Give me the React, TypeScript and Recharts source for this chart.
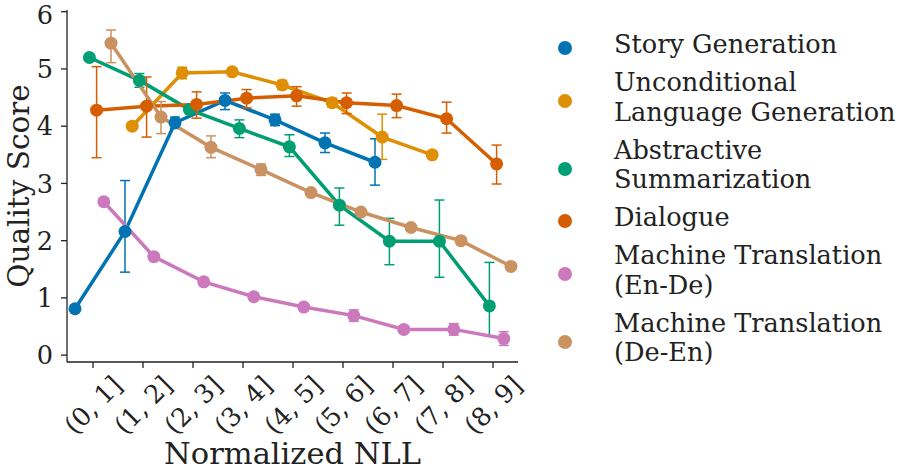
import React from "react";
import { LineChart, Line, XAxis, YAxis, ErrorBar } from "recharts";

// NLL bins on the x axis
const bins = ["(0, 1]", "(1, 2]", "(2, 3]", "(3, 4]", "(4, 5]", "(5, 6]", "(6, 7]", "(7, 8]", "(8, 9]"];
const yTicks = [0, 1, 2, 3, 4, 5, 6];

// means per bin (null = no point), with lower / upper CI bounds
const storyMean = [0.81, 2.16, 4.06, 4.45, 4.11, 3.71, 3.37, null, null];
const storyLow = [0.8, 1.45, 3.96, 4.29, 4.01, 3.54, 2.97, null, null];
const storyHigh = [0.82, 3.05, 4.16, 4.58, 4.21, 3.88, 3.78, null, null];

const uncondMean = [null, 4.0, 4.93, 4.95, 4.72, 4.41, 3.81, 3.5, null];
const uncondLow = [null, 3.95, 4.83, 4.89, 4.64, 4.33, 3.42, 3.45, null];
const uncondHigh = [null, 4.05, 5.03, 5.01, 4.8, 4.49, 4.21, 3.55, null];

const summMean = [5.2, 4.8, 4.29, 3.96, 3.64, 2.62, 1.99, 1.99, 0.86];
const summLow = [5.15, 4.68, 4.24, 3.8, 3.47, 2.27, 1.58, 1.36, 0.33];
const summHigh = [5.25, 4.92, 4.34, 4.11, 3.85, 2.92, 2.39, 2.71, 1.62];

const dialogMean = [4.28, 4.35, 4.38, 4.49, 4.53, 4.41, 4.36, 4.13, 3.34];
const dialogLow = [3.45, 3.81, 4.14, 4.32, 4.35, 4.22, 4.15, 3.88, 2.99];
const dialogHigh = [5.04, 4.86, 4.6, 4.64, 4.69, 4.58, 4.56, 4.42, 3.67];

const enDeMean = [2.68, 1.72, 1.28, 1.02, 0.84, 0.69, 0.45, 0.45, 0.29];
const enDeLow = [2.63, 1.67, 1.23, 0.96, 0.78, 0.59, 0.39, 0.35, 0.17];
const enDeHigh = [2.73, 1.77, 1.33, 1.08, 0.9, 0.79, 0.51, 0.55, 0.41];

const deEnMean = [5.45, 4.16, 3.63, 3.24, 2.84, 2.5, 2.23, 2.0, 1.55];
const deEnLow = [5.11, 3.87, 3.45, 3.14, 2.78, 2.45, 2.18, 1.95, 1.5];
const deEnHigh = [5.68, 4.43, 3.83, 3.34, 2.9, 2.55, 2.28, 2.05, 1.6];

const seriesNames = [
  "Story Generation",
  "Unconditional\nLanguage Generation",
  "Abstractive\nSummarization",
  "Dialogue",
  "Machine Translation\n(En-De)",
  "Machine Translation\n(De-En)",
];
const colors = ["#0173b2", "#de8f05", "#029e73", "#d55e00", "#cc78bc", "#ca9161"];

const FONT = "'DejaVu Serif', serif";
const INK = "#222";

function buildSeries(mean: (number | null)[], low: (number | null)[], high: (number | null)[], idx: number) {
  const dodge = -0.36 + idx * 0.144;
  const rows: { x: number; y: number; err: number[] }[] = [];
  mean.forEach((m, i) => {
    if (m == null) return;
    rows.push({ x: i + dodge, y: m, err: [m - (low[i] as number), (high[i] as number) - m] });
  });
  return rows;
}

const series = [
  buildSeries(storyMean, storyLow, storyHigh, 0),
  buildSeries(uncondMean, uncondLow, uncondHigh, 1),
  buildSeries(summMean, summLow, summHigh, 2),
  buildSeries(dialogMean, dialogLow, dialogHigh, 3),
  buildSeries(enDeMean, enDeLow, enDeHigh, 4),
  buildSeries(deEnMean, deEnLow, deEnHigh, 5),
];

function BinTick(props: any) {
  const { x, y, payload } = props;
  const cy = y + 35;
  return (
    <text
      x={x}
      y={cy}
      textAnchor="middle"
      dominantBaseline="central"
      transform={`rotate(-45, ${x}, ${cy})`}
      fontFamily={FONT}
      fontSize={25.6}
      fill={INK}>
      {bins[payload.value]}
    </text>
  );
}

function LegendBox() {
  return (
    <div style={{ position: "absolute", left: 558, top: 30, fontFamily: FONT, fontSize: 25.6, color: INK }}>
      {seriesNames.map((name, i) => (
        <div key={name} style={{ display: "flex", alignItems: "center", marginBottom: 8.5 }}>
          <div
            style={{
              width: 14,
              height: 14,
              borderRadius: 7,
              background: colors[i],
              marginTop: 7,
              marginRight: 42,
              flexShrink: 0,
            }}
          />
          <div style={{ lineHeight: "29.5px", whiteSpace: "pre" }}>{name}</div>
        </div>
      ))}
    </div>
  );
}

export default function App() {
  return (
    <div style={{ position: "absolute", left: 0, top: 0, width: 900, height: 470, background: "#fff" }}>
      <LineChart width={900} height={470} margin={{ top: 10, right: 382, bottom: 0, left: 0 }}>
        <XAxis
          type="number"
          dataKey="x"
          domain={[-0.52, 8.5]}
          ticks={[0, 1, 2, 3, 4, 5, 6, 7, 8]}
          allowDataOverflow
          height={108}
          tickSize={6}
          tick={<BinTick />}
          axisLine={{ stroke: INK, strokeWidth: 1.3 }}
          tickLine={{ stroke: INK, strokeWidth: 1.3 }}
          label={{
            value: "Normalized NLL",
            position: "insideBottom",
            offset: 6,
            fontFamily: FONT,
            fontSize: 30.5,
            fill: INK,
          }}
        />
        <YAxis
          type="number"
          domain={[-0.12, 6.03]}
          ticks={yTicks}
          allowDataOverflow
          width={67}
          tickSize={6}
          tickMargin={8}
          tick={{ fontFamily: FONT, fontSize: 25.6, fill: INK }}
          axisLine={{ stroke: INK, strokeWidth: 1.3 }}
          tickLine={{ stroke: INK, strokeWidth: 1.3 }}
          label={{
            value: "Quality Score",
            angle: -90,
            position: "insideLeft",
            offset: 0,
            dx: 19,
            style: { textAnchor: "middle" },
            fontFamily: FONT,
            fontSize: 29.5,
            fill: INK,
          }}
        />
        {series.map((rows, i) => (
          <Line
            key={seriesNames[i]}
            data={rows}
            dataKey="y"
            stroke={colors[i]}
            strokeWidth={3.5}
            dot={{ r: 6.5, fill: colors[i], stroke: colors[i], strokeWidth: 0 }}
            activeDot={false}
            isAnimationActive={false}>
            <ErrorBar dataKey="err" direction="y" width={5} stroke={colors[i]} strokeWidth={1.5} />
          </Line>
        ))}
      </LineChart>
      <LegendBox />
    </div>
  );
}
